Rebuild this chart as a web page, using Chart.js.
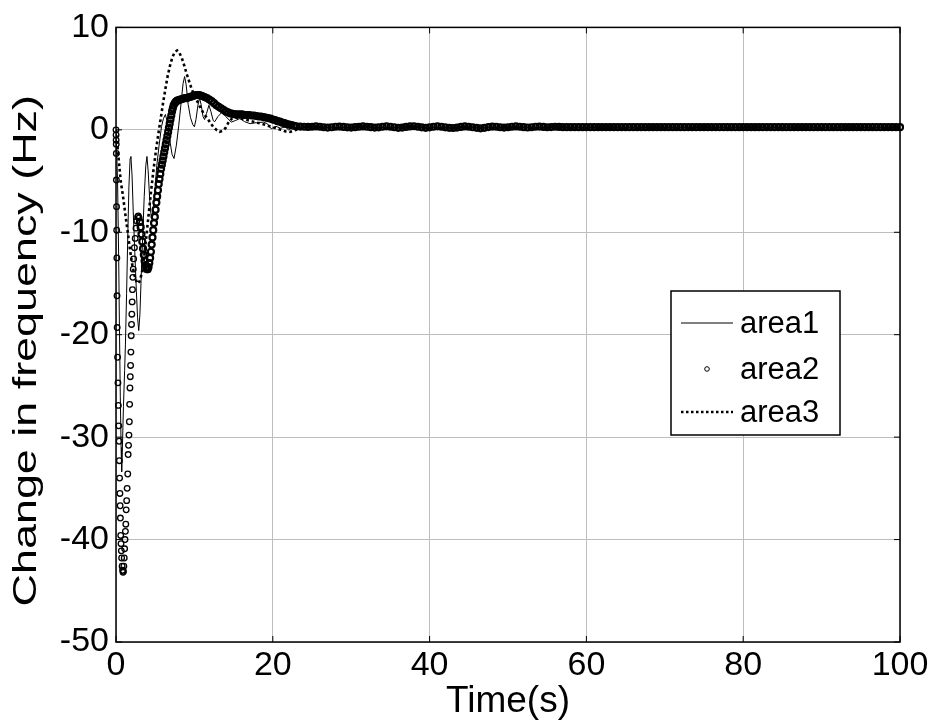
<!DOCTYPE html>
<html>
<head>
<meta charset="utf-8">
<script src="https://cdn.jsdelivr.net/npm/chart.js@4.4.0/dist/chart.umd.min.js"></script>
<style>
html, body { margin: 0; padding: 0; background: #fff; }
</style>
</head>
<body>
<canvas id="myChart" width="934" height="724"></canvas>
<script>
// tick values
var xTicks = [0, 20, 40, 60, 80, 100];
var yTicks = [-50, -40, -30, -20, -10, 0, 10];

// area1 (thin solid line)
var area1Time = [0,0.2,0.35,0.45,0.55,0.65,0.72,0.8,0.95,1.1,1.2,1.35,1.5,1.65,1.8,1.9,2.05,2.2,2.4,2.6,
    2.75,2.9,3.05,3.2,3.4,3.6,3.8,3.95,4.1,4.3,4.5,4.7,4.95,5.2,5.5,5.8,6.05,6.3,6.6,6.9,
    7.15,7.4,7.7,8.0,8.3,8.55,8.75,8.95,9.2,9.5,9.8,10.0,10.2,10.45,10.65,10.85,11.1,11.3,11.55,11.85,
    12.1,12.4,12.6,13.0,13.5,14.0,14.7,15.2,15.8,16.4,17.1,17.9,18.8,19.3,19.8,20.4,21.0,21.6,22.0,22.5,
    23.5,25,30,40,50,60,70,80,90,100];
var area1Freq = [0,-5,-13,-20,-26,-31,-33.4,-31.5,-27,-23.5,-21,-16,-10.5,-5.5,-2.8,-2.6,-4.5,-8,-12,-15.8,
    -18.3,-19.6,-18,-14.7,-10.5,-6.5,-3.5,-2.6,-4,-6.8,-8.6,-8.0,-6.0,-3.5,-1.5,0.3,1.1,1.5,0.6,-1.2,
    -2.4,-2.8,-1.5,0.4,2.6,4.5,5.2,4.4,2.5,1.2,0.5,0.3,1.0,2.4,3.1,2.5,1.3,1.0,1.6,2.4,
    1.8,0.9,0.8,1.3,1.7,1.3,0.75,0.9,1.1,0.8,0.6,0.7,0.75,0.6,0.1,0.35,0.15,0.3,0.0,0.2,
    0.25,0.2,0.2,0.2,0.2,0.2,0.2,0.2,0.2,0.2];

// area2 (circle markers)
var area2Time = [0,0.01,0.02,0.03,0.04,0.05,0.07,0.09,0.11,0.13,0.15,0.2,0.25,0.3,0.35,0.4,0.43,0.46,0.5,0.53,
    0.56,0.6,0.64,0.68,0.72,0.78,0.84,0.9,0.95,1.0,1.05,1.1,1.15,1.2,1.25,1.3,1.36,1.42,1.5,1.55,
    1.6,1.65,1.7,1.74,1.78,1.82,1.86,1.9,1.94,1.98,2.02,2.06,2.1,2.15,2.2,2.25,2.35,2.45,2.55,2.65,
    2.75,2.85,2.95,3.05,3.15,3.25,3.35,3.45,3.55,3.65,3.75,3.85,3.95,4.05,4.15,4.25,4.35,4.45,4.55,4.65,
    4.75,4.85,4.95,5.05,5.15,5.25,5.35,5.45,5.55,5.65,5.75,5.85,5.95,6.05,6.15,6.25,6.35,6.45,6.55,6.65,
    6.75,6.85,6.95,7.05,7.15,7.25,7.35,7.5,7.65,7.8,8.0,8.2,8.4,8.6,8.8,9.0,9.2,9.4,9.6,9.8,
    10.0,10.2,10.4,10.6,10.8,11.0,11.3,11.6,11.9,12.2,12.5,12.8,13.1,13.4,13.7,14.0,14.3,14.6,14.9,15.2,
    15.5,15.8,16.1,16.4,16.7,17.0,17.3,17.6,17.9,18.2,18.5,18.8,19.1,19.4,19.7,20.0,20.3,20.6,20.9,21.2,
    21.5,21.8,22.1,22.4,22.7,23.0,
    23.5,24,24.5,25,25.5,26,26.5,27,27.5,28,28.5,29,29.5,30,30.5,31,31.5,32,32.5,33,
    33.5,34,34.5,35,35.5,36,36.5,37,37.5,38,38.5,39,39.5,40,40.5,41,41.5,42,42.5,43,
    43.5,44,44.5,45,45.5,46,46.5,47,47.5,48,48.5,49,49.5,50,50.5,51,51.5,52,52.5,53,
    53.5,54,54.5,55,55.5,56,56.5,57,57.5,58,58.5,59,59.5,60,60.5,61,61.5,62,62.5,63,
    63.5,64,64.5,65,65.5,66,66.5,67,67.5,68,68.5,69,69.5,70,70.5,71,71.5,72,72.5,73,
    73.5,74,74.5,75,75.5,76,76.5,77,77.5,78,78.5,79,79.5,80,80.5,81,81.5,82,82.5,83,
    83.5,84,84.5,85,85.5,86,86.5,87,87.5,88,88.5,89,89.5,90,90.5,91,91.5,92,92.5,93,
    93.5,94,94.5,95,95.5,96,96.5,97,97.5,98,98.5,99,99.5,100];
var area2Freq = [0,-0.5,-1,-1.4,-2.3,-4.9,-7.5,-9.8,-12.5,-16.2,-19.3,-22.2,-24.7,-26.9,-28.9,-30.4,-32.3,-34,-35.5,-36.7,
    -37.9,-39.6,-40.4,-41.1,-41.8,-42.6,-43,-43.2,-43.1,-42.6,-41.8,-40.9,-40.0,-39.2,-38.5,-37.1,-36.2,-35,-33.6,-31.7,
    -30.8,-29.8,-28.5,-26.8,-25.2,-24.1,-23,-21.7,-20.1,-19,-18,-16.8,-15.6,-14.4,-13.6,-12.6,-11.5,-10.6,-9.6,-8.9,
    -8.5,-8.4,-8.6,-9.0,-9.5,-10.2,-10.9,-11.6,-12.2,-12.8,-13.2,-13.5,-13.6,-13.6,-13.4,-13.0,-12.5,-11.9,-11.2,-10.5,
    -9.8,-9.1,-8.5,-7.8,-7.1,-6.5,-5.9,-5.3,-4.8,-4.3,-3.8,-3.4,-3.0,-2.6,-2.2,-1.8,-1.4,-1.0,-0.6,-0.2,
    0.2,0.6,1.0,1.4,1.8,2.1,2.4,2.6,2.75,2.85,2.9,2.95,3.0,3.05,3.1,3.1,3.15,3.2,3.25,3.3,
    3.35,3.4,3.4,3.4,3.35,3.3,3.2,3.1,2.95,2.8,2.6,2.4,2.25,2.1,1.95,1.8,1.7,1.6,1.55,1.5,
    1.5,1.5,1.5,1.45,1.45,1.45,1.4,1.4,1.35,1.3,1.3,1.25,1.2,1.15,1.1,1.0,0.95,0.85,0.8,0.7,
    0.65,0.55,0.5,0.45,0.4,0.35,
    0.32,0.3,0.28,0.3,0.33,0.3,0.25,0.22,0.25,0.3,0.32,0.28,0.24,0.22,0.26,0.3,0.33,0.3,0.26,0.22,
    0.24,0.3,0.34,0.3,0.25,0.2,0.22,0.28,0.33,0.35,0.3,0.24,0.2,0.24,0.3,0.34,0.3,0.24,0.2,0.18,
    0.22,0.28,0.33,0.3,0.25,0.2,0.15,0.2,0.27,0.32,0.3,0.25,0.22,0.25,0.3,0.33,0.3,0.26,0.23,0.25,
    0.3,0.32,0.28,0.25,0.27,0.3,0.28,0.26,0.26,0.26,0.26,0.26,0.26,0.26,0.26,0.26,0.26,0.26,0.26,0.26,
    0.26,0.26,0.26,0.26,0.26,0.26,0.26,0.26,0.26,0.26,0.26,0.26,0.26,0.26,0.26,0.26,0.26,0.26,0.26,0.26,
    0.26,0.26,0.26,0.26,0.26,0.26,0.26,0.26,0.26,0.26,0.26,0.26,0.26,0.26,0.26,0.26,0.26,0.26,0.26,0.26,
    0.26,0.26,0.26,0.26,0.26,0.26,0.26,0.26,0.26,0.26,0.26,0.26,0.26,0.26,0.26,0.26,0.26,0.26,0.26,0.26,
    0.26,0.26,0.26,0.26,0.26,0.26,0.26,0.26,0.26,0.26,0.26,0.26,0.26,0.26];

// area3 (dotted line)
var area3Time = [0,0.3,0.6,0.9,1.2,1.5,1.8,2.1,2.4,2.7,3.0,3.3,3.6,3.9,4.2,4.5,4.8,5.1,5.4,5.7,
    6.0,6.3,6.6,6.9,7.2,7.5,7.8,8.1,8.4,8.7,9.0,9.3,9.6,9.9,10.2,10.5,10.8,11.1,11.4,11.7,
    12.0,12.4,12.8,13.2,13.6,14.0,14.4,14.8,15.2,15.6,16.2,17.0,18.0,19.0,20.0,20.8,21.6,22.2,23,24,
    30,40,50,60,70,80,90,100];
var area3Freq = [0,-2.5,-5,-6.5,-8.3,-10,-11.8,-13.3,-14.3,-15,-14.8,-14,-12.3,-10.2,-8,-5.8,-3.8,-2,-0.4,1.1,
    2.6,4.0,5.3,6.3,7.1,7.6,7.75,7.5,7.0,6.3,5.5,4.8,4.1,3.5,3.0,2.6,2.1,1.7,1.35,1.1,
    0.7,0.3,0.0,-0.2,-0.1,0.2,0.8,1.1,1.2,1.15,1.05,0.9,0.7,0.5,0.25,0.05,-0.15,-0.2,0.0,0.15,
    0.15,0.15,0.15,0.15,0.15,0.15,0.15,0.15];

var seriesNames = ['area1', 'area2', 'area3'];
var yTitle = 'Change in frequency (Hz)';

function pairs(xs, ys) {
    return xs.map(function (x, i) { return { x: x, y: ys[i] }; });
}

var fontFamily = "'Liberation Sans', Arial, sans-serif";
Chart.defaults.font.family = fontFamily;
Chart.defaults.color = '#000';

// box around the axes, inward ticks, legend and the (stretched) y title
var framePlugin = {
    id: 'frame',
    afterDatasetsDraw: function (chart) {
        var ctx = chart.ctx, a = chart.chartArea;
        var xs = chart.scales.x, ys = chart.scales.y;
        ctx.save();
        ctx.strokeStyle = '#000';
        ctx.lineWidth = 1;
        xTicks.forEach(function (v) {
            var px = xs.getPixelForValue(v);
            ctx.beginPath();
            ctx.moveTo(px, a.bottom); ctx.lineTo(px, a.bottom - 6);
            ctx.moveTo(px, a.top); ctx.lineTo(px, a.top + 6);
            ctx.stroke();
        });
        yTicks.forEach(function (v) {
            var py = ys.getPixelForValue(v);
            ctx.beginPath();
            ctx.moveTo(a.left, py); ctx.lineTo(a.left + 6, py);
            ctx.moveTo(a.right, py); ctx.lineTo(a.right - 6, py);
            ctx.stroke();
        });
        ctx.lineWidth = 1.5;
        ctx.strokeRect(a.left, a.top, a.right - a.left, a.bottom - a.top);

        // legend
        var lx = 671, ly = 291, lw = 169, lh = 144;
        ctx.fillStyle = '#fff';
        ctx.fillRect(lx, ly, lw, lh);
        ctx.strokeRect(lx, ly, lw, lh);
        var rows = [323, 369, 412];
        ctx.font = '31px ' + fontFamily;
        ctx.textBaseline = 'middle';
        ctx.fillStyle = '#000';
        ctx.lineWidth = 1;
        ctx.beginPath(); ctx.moveTo(681, rows[0]); ctx.lineTo(733, rows[0]); ctx.stroke();
        ctx.beginPath(); ctx.arc(707, rows[1], 2.3, 0, Math.PI * 2); ctx.stroke();
        ctx.lineWidth = 2.4;
        ctx.setLineDash([2.5, 2.5]);
        ctx.beginPath(); ctx.moveTo(681, rows[2]); ctx.lineTo(733, rows[2]); ctx.stroke();
        ctx.setLineDash([]);
        seriesNames.forEach(function (n, i) { ctx.fillText(n, 740, rows[i] + 1); });

        // y axis title
        ctx.translate(27, (a.top + a.bottom) / 2 + 16);
        ctx.rotate(-Math.PI / 2);
        ctx.scale(1.32, 1);
        ctx.font = '34px ' + fontFamily;
        ctx.textAlign = 'center';
        ctx.fillText(yTitle, 0, 0);
        ctx.restore();
    }
};

var ctx = document.getElementById('myChart').getContext('2d');
var myChart = new Chart(ctx, {
    type: 'scatter',
    data: {
        datasets: [{
            label: seriesNames[0],
            data: pairs(area1Time, area1Freq),
            showLine: true,
            borderColor: '#000',
            borderWidth: 1,
            pointRadius: 0,
            tension: 0,
            order: 1
        }, {
            label: seriesNames[1],
            data: pairs(area2Time, area2Freq),
            showLine: false,
            pointStyle: 'circle',
            pointRadius: function (c) { return c.raw && c.raw.x > 3 ? 3 : 2.8; },
            // the densely sampled part of the trace reads as a heavy band
            pointBorderWidth: function (c) { return c.raw && c.raw.x > 3 ? 2.2 : 1.3; },
            pointBorderColor: '#000',
            pointBackgroundColor: 'rgba(0,0,0,0)',
            clip: 6,
            order: 2
        }, {
            label: seriesNames[2],
            data: pairs(area3Time, area3Freq),
            showLine: true,
            borderColor: '#000',
            borderWidth: 2.6,
            borderDash: [2.8, 2.8],
            pointRadius: 0,
            tension: 0,
            order: 3
        }]
    },
    options: {
        responsive: false,
        animation: false,
        events: [],
        layout: { padding: { top: 21, right: 34, left: 0, bottom: 0 } },
        plugins: { legend: { display: false }, tooltip: { enabled: false } },
        scales: {
            x: {
                type: 'linear',
                min: 0,
                max: 100,
                afterBuildTicks: function (s) { s.ticks = xTicks.map(function (v) { return { value: v }; }); },
                ticks: { color: '#000', font: { size: 34 }, padding: 3, maxRotation: 0, autoSkip: false },
                grid: { color: '#bdbdbd', lineWidth: 1, drawTicks: false },
                border: { display: false },
                title: { display: true, text: 'Time(s)', color: '#000', font: { size: 37 }, padding: { top: 0, bottom: 0 } },
                afterFit: function (s) { s.height = 82; }
            },
            y: {
                min: -50,
                max: 10,
                afterBuildTicks: function (s) { s.ticks = yTicks.map(function (v) { return { value: v }; }); },
                ticks: { color: '#000', font: { size: 34 }, padding: 7, autoSkip: false },
                grid: { color: '#bdbdbd', lineWidth: 1, drawTicks: false },
                border: { display: false },
                title: { display: false },
                afterFit: function (s) { s.width = 116; }
            }
        }
    },
    plugins: [framePlugin]
});
</script>
</body>
</html>
